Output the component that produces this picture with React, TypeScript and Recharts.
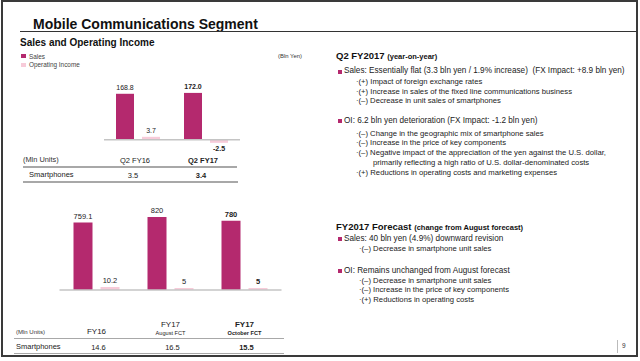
import React from "react";
import { BarChart, Bar, XAxis, YAxis, LabelList, ReferenceLine } from "recharts";

const MAGENTA = "#b4296e";
const PINK = "#f7cbd9";
const INK = "#222";
const RULE = "#a8a8a8";
const FONT = '"Liberation Sans", Arial, sans-serif';

// Q2 results (Bln Yen / Mln Units)
const quarterNames = ["Q2 FY16", "Q2 FY17"];
const quarterSales = [168.8, 172.0];
const quarterOI = [3.7, -2.5];
const quarterSmartphones = [3.5, 3.4];

// full year forecast
const yearNames = ["FY16", "FY17", "FY17"];
const yearNotes = ["", "August FCT", "October FCT"];
const yearSales = [759.1, 820, 780];
const yearOI = [10.2, 5, 5];
const yearSmartphones = [14.6, 16.5, 15.5];

const quarterData = quarterNames.map((name, i) => ({
  key: name,
  sales: quarterSales[i],
  oi: quarterOI[i],
}));

const yearData = yearNames.map((name, i) => ({
  key: `${name} ${yearNotes[i]}`.trim(),
  sales: yearSales[i],
  oi: yearOI[i],
}));

function T({
  x,
  y,
  size,
  bold,
  color = INK,
  children,
}: {
  x: number;
  y: number;
  size: number;
  bold?: boolean;
  color?: string;
  children: React.ReactNode;
}) {
  return (
    <div
      style={{
        position: "absolute",
        left: x,
        top: y - size * 0.52,
        fontSize: size,
        lineHeight: 1,
        fontWeight: bold ? 700 : 400,
        color,
        whiteSpace: "nowrap",
      }}
    >
      {children}
    </div>
  );
}

function HLine({ x, y, w, h = 1, color = RULE }: { x: number; y: number; w: number; h?: number; color?: string }) {
  return <div style={{ position: "absolute", left: x, top: y, width: w, height: h, background: color }} />;
}

function Bullet({ x, y }: { x: number; y: number }) {
  return <div style={{ position: "absolute", left: x, top: y - 2, width: 4, height: 4, background: MAGENTA }} />;
}

function makeValueLabel(format: (v: number) => string, boldIndex: number, fontSize: number) {
  return function ValueLabel(props: any) {
    const box = props.viewBox && props.viewBox.width != null ? props.viewBox : props;
    const x = Number(box.x);
    const y = Number(box.y);
    const w = Number(box.width);
    const h = Number(box.height);
    const top = Math.min(y, y + h);
    const bottom = Math.max(y, y + h);
    const v = Number(props.value);
    const ty = v < 0 ? bottom + 3 + fontSize * 0.72 : top - 4;
    return (
      <text
        x={x + w / 2}
        y={ty}
        textAnchor="middle"
        fontSize={fontSize}
        fontWeight={props.index === boldIndex ? 700 : 400}
        fill={INK}
        fontFamily={FONT}
      >
        {format(v)}
      </text>
    );
  };
}

function QuarterTick({ x, y, index }: any) {
  const bold = index === quarterNames.length - 1;
  return (
    <g fontFamily={FONT} fill={INK} textAnchor="middle" fontWeight={bold ? 700 : 400}>
      <text x={x - 3} y={y + 6.7} fontSize={7.5}>
        {quarterNames[index]}
      </text>
      <text x={x - 5} y={y + 21.7} fontSize={7.5}>
        {quarterSmartphones[index].toFixed(1)}
      </text>
    </g>
  );
}

function YearTick({ x, y, index }: any) {
  const bold = index === yearNames.length - 1;
  const note = yearNotes[index];
  return (
    <g fontFamily={FONT} fill={INK} textAnchor="middle" fontWeight={bold ? 700 : 400}>
      <text x={x} y={note ? y + 29 : y + 35.5} fontSize={8}>
        {yearNames[index]}
      </text>
      {note && (
        <text x={x} y={y + 36.5} fontSize={5.6}>
          {note}
        </text>
      )}
      <text x={x + 2} y={y + 51.5} fontSize={7.5}>
        {yearSmartphones[index].toFixed(1)}
      </text>
    </g>
  );
}

const quarterLabel = makeValueLabel((v) => v.toFixed(1), quarterNames.length - 1, 7);
const yearLabel = makeValueLabel((v) => String(v), yearNames.length - 1, 7.5);

export default function App() {
  return (
    <div
      style={{
        position: "absolute",
        left: 0,
        top: 0,
        width: 640,
        height: 361,
        background: "#fff",
        fontFamily: FONT,
        overflow: "hidden",
      }}
    >
      <div
        style={{
          position: "absolute",
          left: 1,
          top: 0,
          width: 633,
          height: 353,
          border: "2px solid #3a3a3a",
        }}
      />

      <T x={33} y={24} size={14} bold color="#111">
        Mobile Communications Segment
      </T>
      <HLine x={20} y={31} w={617} color="#333" />

      <T x={20} y={43} size={10} bold color="#111">
        Sales and Operating Income
      </T>
      <div style={{ position: "absolute", left: 21, top: 54, width: 5, height: 4, background: MAGENTA }} />
      <T x={29} y={57} size={6.4} color="#444">
        Sales
      </T>
      <div style={{ position: "absolute", left: 21, top: 63, width: 5, height: 4, background: PINK }} />
      <T x={29} y={65.7} size={6.4} color="#444">
        Operating Income
      </T>
      <T x={278} y={57} size={5.9} color="#333">
        (Bln Yen)
      </T>

      {/* quarter chart */}
      <div style={{ position: "absolute", left: 0, top: 0 }}>
        <BarChart
          width={250}
          height={185}
          data={quarterData}
          margin={{ top: 88, right: 10, bottom: 0, left: 104 }}
          barSize={18}
          barGap={8}
        >
          <XAxis dataKey="key" axisLine={false} tickLine={false} height={37} interval={0} tick={<QuarterTick />} />
          <YAxis hide domain={[-30, 190]} allowDataOverflow />
          <Bar dataKey="sales" fill={MAGENTA} isAnimationActive={false}>
            <LabelList dataKey="sales" content={quarterLabel} />
          </Bar>
          <Bar
            dataKey="oi"
            fill={PINK}
            minPointSize={3}
            isAnimationActive={false}
          >
            <LabelList dataKey="oi" content={quarterLabel} />
          </Bar>
          <ReferenceLine y={0} stroke="#c4c4c4" strokeWidth={1.5} />
        </BarChart>
      </div>
      <T x={23} y={160} size={7.4} color="#333">
        (Mln Units)
      </T>
      <HLine x={23} y={166} w={214} h={2} />
      <T x={29} y={175} size={7.5}>
        Smartphones
      </T>
      <HLine x={23} y={181} w={215} h={1.5} />

      {/* full year chart */}
      <div style={{ position: "absolute", left: 0, top: 200 }}>
        <BarChart
          width={290}
          height={157}
          data={yearData}
          margin={{ top: 10, right: 8.5, bottom: 0, left: 59.5 }}
          barSize={19}
          barGap={8}
        >
          <XAxis dataKey="key" axisLine={false} tickLine={false} height={67} interval={0} tick={<YearTick />} />
          <YAxis hide domain={[0, 900]} allowDataOverflow />
          <Bar dataKey="sales" fill={MAGENTA} isAnimationActive={false}>
            <LabelList dataKey="sales" content={yearLabel} />
          </Bar>
          <Bar
            dataKey="oi"
            fill={PINK}
            minPointSize={(v: number) => (v >= 10 ? 3 : 2)}
            isAnimationActive={false}
          >
            <LabelList dataKey="oi" content={yearLabel} />
          </Bar>
          <ReferenceLine y={0} stroke="#c4c4c4" strokeWidth={1.5} />
        </BarChart>
      </div>
      <T x={16} y={331.7} size={6} color="#333">
        (Mln Units)
      </T>
      <HLine x={14} y={337.5} w={270} h={1.5} />
      <T x={16} y={346.7} size={7.5}>
        Smartphones
      </T>
      <HLine x={14} y={352.5} w={270} h={1.5} />

      {/* Q2 commentary */}
      <T x={336} y={56} size={9.5} bold color="#111">
        Q2 FY2017 <span style={{ fontSize: 7.5 }}>(year-on-year)</span>
      </T>
      <Bullet x={338} y={71.7} />
      <T x={344} y={71.7} size={8.2}>
        Sales: Essentially flat (3.3 bln yen / 1.9% increase)&nbsp; (FX Impact: +8.9 bln yen)
      </T>
      <T x={356} y={81.7} size={7.7}>·(+) Impact of foreign exchange rates</T>
      <T x={356} y={91.7} size={7.7}>·(+) Increase in sales of the fixed line communications business</T>
      <T x={356} y={101} size={7.7}>·(–) Decrease in unit sales of smartphones</T>

      <Bullet x={338} y={121} />
      <T x={344} y={121} size={8.2}>
        OI: 6.2 bln yen deterioration (FX Impact: -1.2 bln yen)
      </T>
      <T x={356} y={133.7} size={7.7}>·(–) Change in the geographic mix of smartphone sales</T>
      <T x={356} y={143} size={7.7}>·(–) Increase in the price of key components</T>
      <T x={356} y={153} size={7.7}>·(–) Negative impact of the appreciation of the yen against the U.S. dollar,</T>
      <T x={373} y={162.7} size={7.7}>primarily reflecting a high ratio of U.S. dollar-denominated costs</T>
      <T x={356} y={172.7} size={7.7}>·(+) Reductions in operating costs and marketing expenses</T>

      {/* forecast commentary */}
      <T x={336} y={226.7} size={9.5} bold color="#111">
        FY2017 Forecast <span style={{ fontSize: 7.5 }}>(change from August forecast)</span>
      </T>
      <Bullet x={338} y={239.3} />
      <T x={344} y={239.3} size={8.2}>
        Sales: 40 bln yen (4.9%) downward revision
      </T>
      <T x={359} y={249.3} size={7.7}>·(–) Decrease in smartphone unit sales</T>
      <Bullet x={338} y={271} />
      <T x={344} y={271} size={8.2}>
        OI: Remains unchanged from August forecast
      </T>
      <T x={359} y={281} size={7.7}>·(–) Decrease in smartphone unit sales</T>
      <T x={359} y={290.3} size={7.7}>·(–) Increase in the price of key components</T>
      <T x={359} y={299.7} size={7.7}>·(+) Reductions in operating costs</T>

      <div style={{ position: "absolute", left: 617, top: 340, width: 1, height: 13, background: "#bbb" }} />
      <T x={622} y={346.7} size={6.5} color="#333">
        9
      </T>
    </div>
  );
}
